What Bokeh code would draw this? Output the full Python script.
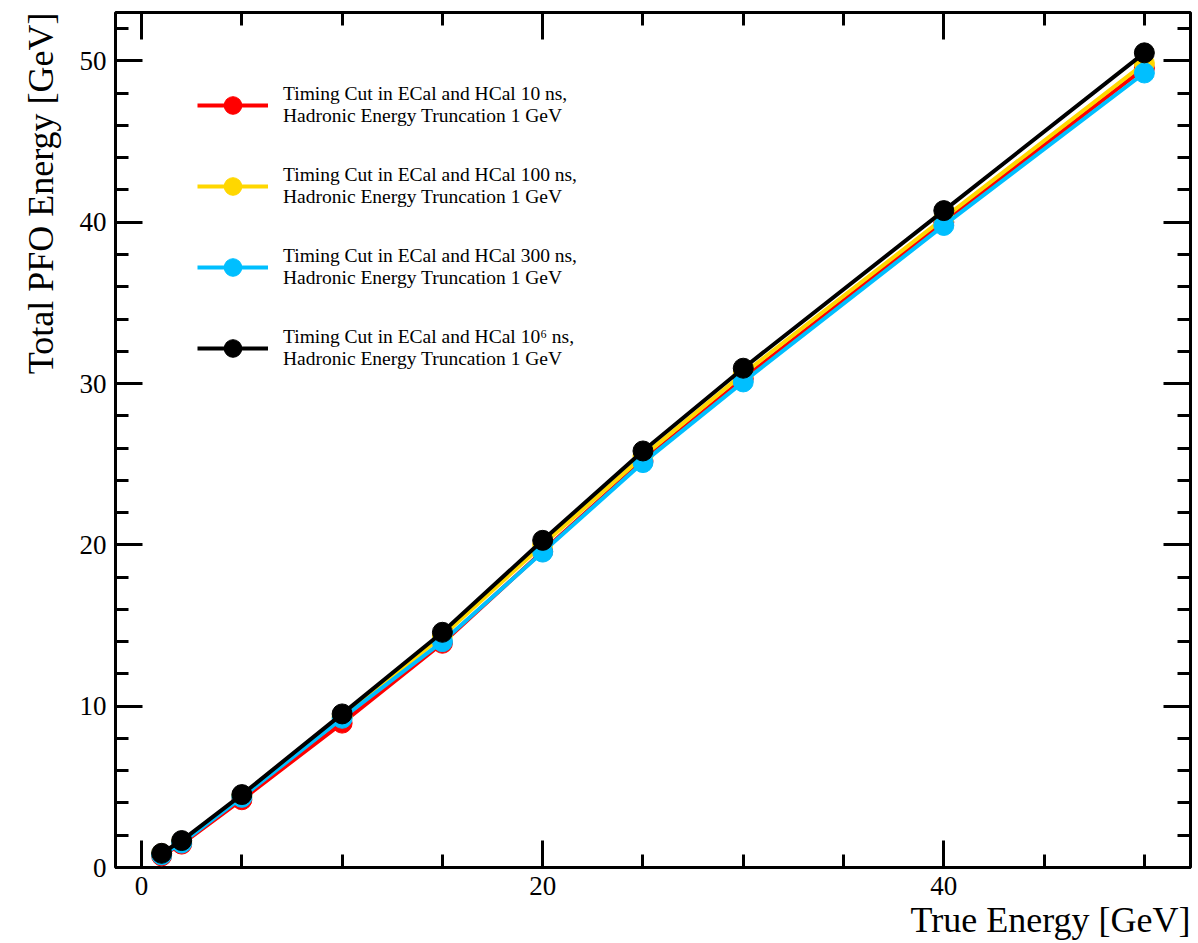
from bokeh.plotting import figure
from bokeh.models import (Range1d, LinearAxis, SingleIntervalTicker, Legend, LegendItem, Title,
                          CustomJSTickFormatter)
from bokeh.embed import file_html
from bokeh.resources import INLINE

true_energy = [1, 2, 5, 10, 15, 20, 25, 30, 40, 50]
pfo_10ns = [0.72, 1.45, 4.20, 8.95, 13.90, 19.60, 25.20, 30.30, 40.00, 49.55]
pfo_100ns = [0.85, 1.60, 4.42, 9.35, 14.35, 20.00, 25.50, 30.60, 40.25, 49.85]
pfo_300ns = [0.78, 1.52, 4.35, 9.25, 14.00, 19.55, 25.10, 30.10, 39.80, 49.25]
pfo_1e6ns = [0.88, 1.67, 4.52, 9.52, 14.58, 20.28, 25.82, 30.95, 40.72, 50.50]

labels = [
    "Timing Cut in ECal and HCal 10 ns,\nHadronic Energy Truncation 1 GeV",
    "Timing Cut in ECal and HCal 100 ns,\nHadronic Energy Truncation 1 GeV",
    "Timing Cut in ECal and HCal 300 ns,\nHadronic Energy Truncation 1 GeV",
    "Timing Cut in ECal and HCal 10\u2076 ns,\nHadronic Energy Truncation 1 GeV",
]
colors = ["#ff0000", "#ffd700", "#00bfff", "#000000"]
series = [pfo_10ns, pfo_100ns, pfo_300ns, pfo_1e6ns]

X_MIN, X_MAX = -1.3, 52.3
Y_MIN, Y_MAX = 0, 53

FONT = "Liberation Serif"

p = figure(width=1198, height=943, output_backend="svg", toolbar_location=None,
           x_range=Range1d(X_MIN, X_MAX), y_range=Range1d(Y_MIN, Y_MAX),
           min_border_left=115, min_border_right=8, min_border_top=12, min_border_bottom=76,
           x_axis_location=None, y_axis_location=None)
p.grid.visible = False
p.outline_line_color = "black"
p.outline_line_width = 3
p.background_fill_color = "white"
p.border_fill_color = "white"

def make_axis(ticker, show_labels):
    ax = LinearAxis(ticker=ticker)
    ax.axis_line_color = None
    ax.major_tick_in = 27
    ax.major_tick_out = 0
    ax.minor_tick_in = 13
    ax.minor_tick_out = 0
    ax.major_tick_line_width = 3
    ax.minor_tick_line_width = 3
    ax.major_tick_line_color = "black"
    ax.minor_tick_line_color = "black"
    if show_labels:
        ax.major_label_text_font = FONT
        ax.major_label_text_font_size = "27px"
        ax.major_label_text_color = "black"
        ax.major_label_standoff = 9
    else:
        ax.formatter = CustomJSTickFormatter(code="return ''")
        ax.major_label_text_font_size = "1px"
        ax.major_label_standoff = 0
    return ax

xt = lambda: SingleIntervalTicker(interval=20, num_minor_ticks=4)
yt = lambda: SingleIntervalTicker(interval=10, num_minor_ticks=5)

p.add_layout(make_axis(xt(), True), "below")
p.add_layout(make_axis(yt(), True), "left")
p.add_layout(make_axis(xt(), False), "above")
p.add_layout(make_axis(yt(), False), "right")

p.add_layout(Title(text="True Energy [GeV]", align="right", text_font=FONT, text_color="black",
                   text_font_size="36px", text_font_style="normal", standoff=1), "below")
p.add_layout(Title(text="Total PFO Energy [GeV]", align="right", vertical_align="top",
                   text_font=FONT, text_color="black",
                   text_font_size="36px", text_font_style="normal", standoff=28), "left")

items = []
for vals, col, lab in zip(series, colors, labels):
    l = p.line(true_energy, vals, line_color=col, line_width=4)
    c = p.scatter(true_energy, vals, size=20, fill_color=col, line_color=col)
    items.append(LegendItem(label=lab, renderers=[l, c]))

legend = Legend(items=items, location=(82, 497))
legend.border_line_color = None
legend.background_fill_alpha = 0
legend.padding = 0
legend.margin = 0
legend.glyph_width = 71
legend.glyph_height = 44
legend.label_height = 44
legend.label_standoff = 15
legend.spacing = 37
legend.label_text_font = FONT
legend.label_text_font_size = "19.5px"
legend.label_text_color = "black"
legend.label_text_line_height = 1.5
legend.label_text_baseline = "middle"
p.add_layout(legend, "center")

open("out.html", "w").write(file_html(p, INLINE))
